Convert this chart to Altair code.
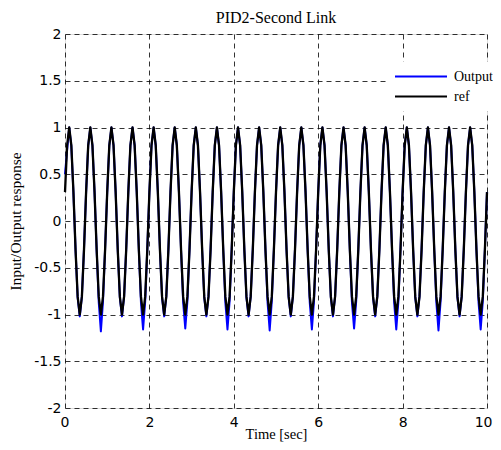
import altair as alt
import pandas as pd

# sample times (0 .. 10 s, 0.05 s step)
time = [round(i * 0.05, 2) for i in range(201)]

# reference signal (one row = 0.5 s)
ref = [
    0.309, 0.809, 1.0, 0.809, 0.309, -0.309, -0.809, -1.0, -0.809, -0.309,
    0.309, 0.809, 1.0, 0.809, 0.309, -0.309, -0.809, -1.0, -0.809, -0.309,
    0.309, 0.809, 1.0, 0.809, 0.309, -0.309, -0.809, -1.0, -0.809, -0.309,
    0.309, 0.809, 1.0, 0.809, 0.309, -0.309, -0.809, -1.0, -0.809, -0.309,
    0.309, 0.809, 1.0, 0.809, 0.309, -0.309, -0.809, -1.0, -0.809, -0.309,
    0.309, 0.809, 1.0, 0.809, 0.309, -0.309, -0.809, -1.0, -0.809, -0.309,
    0.309, 0.809, 1.0, 0.809, 0.309, -0.309, -0.809, -1.0, -0.809, -0.309,
    0.309, 0.809, 1.0, 0.809, 0.309, -0.309, -0.809, -1.0, -0.809, -0.309,
    0.309, 0.809, 1.0, 0.809, 0.309, -0.309, -0.809, -1.0, -0.809, -0.309,
    0.309, 0.809, 1.0, 0.809, 0.309, -0.309, -0.809, -1.0, -0.809, -0.309,
    0.309, 0.809, 1.0, 0.809, 0.309, -0.309, -0.809, -1.0, -0.809, -0.309,
    0.309, 0.809, 1.0, 0.809, 0.309, -0.309, -0.809, -1.0, -0.809, -0.309,
    0.309, 0.809, 1.0, 0.809, 0.309, -0.309, -0.809, -1.0, -0.809, -0.309,
    0.309, 0.809, 1.0, 0.809, 0.309, -0.309, -0.809, -1.0, -0.809, -0.309,
    0.309, 0.809, 1.0, 0.809, 0.309, -0.309, -0.809, -1.0, -0.809, -0.309,
    0.309, 0.809, 1.0, 0.809, 0.309, -0.309, -0.809, -1.0, -0.809, -0.309,
    0.309, 0.809, 1.0, 0.809, 0.309, -0.309, -0.809, -1.0, -0.809, -0.309,
    0.309, 0.809, 1.0, 0.809, 0.309, -0.309, -0.809, -1.0, -0.809, -0.309,
    0.309, 0.809, 1.0, 0.809, 0.309, -0.309, -0.809, -1.0, -0.809, -0.309,
    0.309, 0.809, 1.0, 0.809, 0.309, -0.309, -0.809, -1.0, -0.809, -0.309,
    0.309,
]

# system output (overshoots every other trough)
output = [
    0.50, 0.76, 1.00, 0.80, 0.30, -0.31, -0.82, -1.02, -0.81, -0.30,
    0.31, 0.81, 1.00, 0.81, 0.31, -0.31, -0.87, -1.18, -0.86, -0.30,
    0.31, 0.81, 1.00, 0.81, 0.31, -0.31, -0.82, -1.02, -0.81, -0.30,
    0.31, 0.81, 1.00, 0.81, 0.31, -0.31, -0.87, -1.16, -0.86, -0.30,
    0.31, 0.81, 1.00, 0.81, 0.31, -0.31, -0.82, -1.02, -0.81, -0.30,
    0.31, 0.81, 1.00, 0.81, 0.31, -0.31, -0.87, -1.15, -0.86, -0.30,
    0.31, 0.81, 1.00, 0.81, 0.31, -0.31, -0.82, -1.02, -0.81, -0.30,
    0.31, 0.81, 1.00, 0.81, 0.31, -0.31, -0.87, -1.16, -0.86, -0.30,
    0.31, 0.81, 1.00, 0.81, 0.31, -0.31, -0.82, -1.02, -0.81, -0.30,
    0.31, 0.81, 1.00, 0.81, 0.31, -0.31, -0.87, -1.17, -0.86, -0.30,
    0.31, 0.81, 1.00, 0.81, 0.31, -0.31, -0.82, -1.02, -0.81, -0.30,
    0.31, 0.81, 1.00, 0.81, 0.31, -0.31, -0.87, -1.16, -0.86, -0.30,
    0.31, 0.81, 1.00, 0.81, 0.31, -0.31, -0.82, -1.02, -0.81, -0.30,
    0.31, 0.81, 1.00, 0.81, 0.31, -0.31, -0.87, -1.15, -0.86, -0.30,
    0.31, 0.81, 1.00, 0.81, 0.31, -0.31, -0.82, -1.02, -0.81, -0.30,
    0.31, 0.81, 1.00, 0.81, 0.31, -0.31, -0.87, -1.16, -0.86, -0.30,
    0.31, 0.81, 1.00, 0.81, 0.31, -0.31, -0.82, -1.02, -0.81, -0.30,
    0.31, 0.81, 1.00, 0.81, 0.31, -0.31, -0.87, -1.17, -0.86, -0.30,
    0.31, 0.81, 1.00, 0.81, 0.31, -0.31, -0.82, -1.02, -0.81, -0.30,
    0.31, 0.81, 1.00, 0.81, 0.31, -0.31, -0.87, -1.16, -0.86, -0.30,
    0.31,
]

series_names = ["Output", "ref"]
series_colors = ["#0000ff", "#000000"]
x_ticks = [0, 2, 4, 6, 8, 10]
y_ticks = [-2, -1.5, -1, -0.5, 0, 0.5, 1, 1.5, 2]

df_out = pd.DataFrame({"t": time, "v": output, "series": "Output"})
df_ref = pd.DataFrame({"t": time, "v": ref, "series": "ref"})

serif = "Liberation Serif"
sans = "DejaVu Sans"

x_enc = alt.X(
    "t:Q",
    scale=alt.Scale(domain=[0, 10], nice=False),
    axis=alt.Axis(
        values=x_ticks, title="Time [sec]", grid=True, gridDash=[5, 4],
        gridColor="#000000", gridWidth=0.8, ticks=False, domain=False,
        labelFont=sans, labelFontSize=14, labelColor="black", labelPadding=7,
        labelFlush=True, labelFlushOffset=5, titleFont=serif,
        titleFontSize=14.5, titleFontWeight="normal", titleColor="black",
        titlePadding=-2, labelExpr="'' + datum.value",
    ),
)
y_enc = alt.Y(
    "v:Q",
    scale=alt.Scale(domain=[-2, 2], nice=False),
    axis=alt.Axis(
        values=y_ticks, title="Input/Output response", grid=True,
        gridDash=[5, 4], gridColor="#000000", gridWidth=0.8, ticks=False,
        domain=False, labelFont=sans, labelFontSize=14, labelColor="black",
        labelPadding=4, labelFlush=False, titleFont=serif, titleFontSize=15.5,
        titleFontWeight="normal", titleColor="black", titlePadding=10,
        labelExpr="'' + datum.value",
    ),
)
color = alt.Color(
    "series:N",
    scale=alt.Scale(domain=series_names, range=series_colors),
    legend=alt.Legend(
        title=None, orient="none", legendX=324, legendY=27.5,
        symbolType="M-5.2,0H5.2", symbolSize=100, symbolStrokeWidth=2,
        symbolOffset=17, labelOffset=26, labelFont=serif,
        labelFontSize=14, labelColor="black", fillColor="white",
        padding=8, rowPadding=6,
    ),
)

out_line = alt.Chart(df_out).mark_line(strokeWidth=2, strokeJoin="round").encode(
    x=x_enc, y=y_enc, color=color
)
ref_line = alt.Chart(df_ref).mark_line(strokeWidth=2.3, strokeJoin="round").encode(
    x=x_enc, y=y_enc, color=color
)

chart = (
    alt.layer(out_line, ref_line)
    .properties(
        width=422,
        height=374,
        title=alt.TitleParams(
            "PID2-Second Link", font=serif, fontSize=16, fontWeight="normal",
            color="black", anchor="middle", frame="group", offset=1,
        ),
        autosize=alt.AutoSizeParams(type="none"),
        padding={"left": 57, "top": 26, "right": 6, "bottom": 36},
    )
    .configure_view(stroke="black", strokeWidth=1)
    .configure(background="white")
)

chart.save("out.html", embed_options={"renderer": "svg", "actions": False})
